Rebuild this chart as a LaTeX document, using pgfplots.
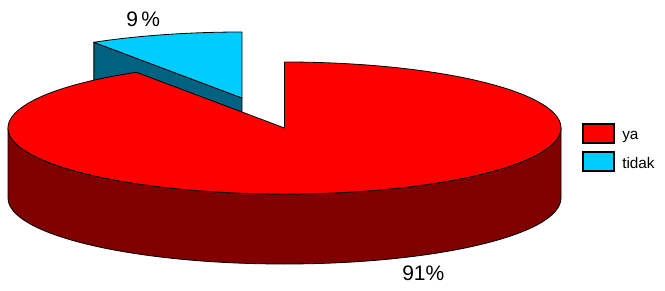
\documentclass[border=0pt]{standalone}
\usepackage{pgfplots}
\pgfplotsset{compat=1.18}
\usepackage{pgfplotstable}
\usepackage{fontspec}
\setmainfont{Liberation Sans}
\definecolor{redtop}{RGB}{255,0,0}
\definecolor{redside}{RGB}{128,0,0}
\definecolor{cyantop}{RGB}{0,204,255}
\definecolor{cyanside}{RGB}{0,98,128}
\pgfplotstableread{
label value
ya 91
tidak 9
}\piedata
\begin{document}
\begin{tikzpicture}
\pgfplotstablegetelem{0}{value}\of\piedata \let\valYa\pgfplotsretval
\pgfplotstablegetelem{1}{value}\of\piedata \let\valTidak\pgfplotsretval
% split angle (slices start at 12 o'clock, tidak counter-clockwise)
\pgfmathsetmacro{\B}{90+360*\valTidak/(\valYa+\valTidak)}
% geometry in pixel units (1 unit = 0.75pt)
\def\CX{284.5}\def\CY{162}
\def\EX{242}\def\EY{192}
\def\RX{207.375pt}\def\RY{49.5pt}\def\D{52.5pt}
\pgfmathsetmacro{\Rx}{\CX+276.5*cos(\B)}
\pgfmathsetmacro{\Ry}{\CY+66*sin(\B)}
\pgfmathsetmacro{\Px}{\EX+276.5*cos(\B)}
\pgfmathsetmacro{\Py}{\EY+66*sin(\B)}
\pgfmathsetmacro{\Pyb}{\Py-70}
\pgfmathsetmacro{\EYb}{\EY-70}
\pgfmathsetmacro{\Lx}{\CX-276.5}
\begin{axis}[
  hide axis,
  x=0.75pt, y=0.75pt,
  xmin=0, xmax=665, ymin=0, ymax=290,
  clip=false,
]
\coordinate (BL) at (axis cs:0,0);
\coordinate (TR) at (axis cs:665,290);
% exploded slice: tidak
\filldraw[fill=cyanside, draw=black, line width=0.6pt, line join=round]
  (axis cs:\EX,\EY) -- (axis cs:\Px,\Py) -- (axis cs:\Px,\Pyb) -- (axis cs:\EX,\EYb) -- cycle;
\filldraw[fill=cyantop, draw=black, line width=0.6pt, line join=round]
  (axis cs:\EX,\EY) -- (axis cs:\EX,258) arc[start angle=90, end angle=\B, x radius=\RX, y radius=\RY] -- cycle;
% main slice: ya
\filldraw[fill=redside, draw=black, line width=0.6pt, line join=round]
  (axis cs:\Lx,\CY) arc[start angle=180, end angle=360, x radius=\RX, y radius=\RY]
  -- ++(0,-\D) arc[start angle=360, end angle=180, x radius=\RX, y radius=\RY] -- cycle;
\filldraw[fill=redtop, draw=black, line width=0.6pt, line join=round]
  (axis cs:\CX,\CY) -- (axis cs:\Rx,\Ry) arc[start angle=\B, end angle=450, x radius=\RX, y radius=\RY] -- cycle;
% labels
\node[anchor=west, inner sep=0pt, font=\fontsize{15.75}{18}\selectfont] at (axis cs:126,270.5) {9\,\%};
\node[anchor=west, inner sep=0pt, font=\fontsize{15.75}{18}\selectfont] at (axis cs:402,17) {91\%};
% legend
\filldraw[fill=redtop, draw=black, line width=0.8pt] (axis cs:583,147) rectangle (axis cs:614,166);
\filldraw[fill=cyantop, draw=black, line width=0.8pt] (axis cs:583,119) rectangle (axis cs:614,138);
\node[anchor=west, inner sep=0pt, font=\fontsize{11.5}{13}\selectfont] at (axis cs:622,153) {ya};
\node[anchor=west, inner sep=0pt, font=\fontsize{11.5}{13}\selectfont] at (axis cs:622,127) {tidak};
\end{axis}
\pgfresetboundingbox
\path[use as bounding box] (BL) rectangle (TR);
\end{tikzpicture}
\end{document}
